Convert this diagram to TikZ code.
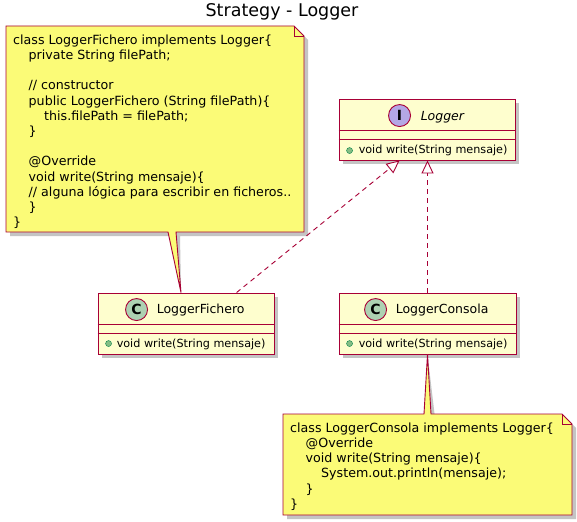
\documentclass[tikz,border=0pt]{standalone}
\usepackage{fontspec}
\setmainfont{DejaVu Sans}
\usetikzlibrary{arrows.meta,shadows,calc}
\definecolor{umlborder}{HTML}{A80036}
\definecolor{classfill}{HTML}{FEFECE}
\definecolor{notefill}{HTML}{FBFB77}
\definecolor{cfill}{HTML}{ADD1B2}
\definecolor{ifill}{HTML}{B4A7E5}
\definecolor{pubfill}{HTML}{84BE84}
\definecolor{pubdraw}{HTML}{038048}
\definecolor{shadowc}{HTML}{C4C4C4}
\pgfdeclarelayer{bg}
\pgfsetlayers{bg,main}
\newcommand\myind{\hspace*{15.5pt}}
\begin{document}
\begin{tikzpicture}[x=1pt,y=-1pt,
  umlline/.style={draw=umlborder, line width=0.9pt},
  classbox/.style={draw=umlborder, fill=classfill, line width=0.9pt,
    minimum width=#1, minimum height=61, inner sep=0pt,
    drop shadow={shadow xshift=4pt, shadow yshift=-4pt, fill=shadowc, opacity=1}},
  circ/.style={circle, draw=umlborder, line width=0.9pt, minimum size=22, inner sep=0pt,
    font=\fontsize{14}{16}\selectfont\bfseries},
  cname/.style={anchor=base west, inner sep=0pt, font=\fontsize{12.5}{15}\selectfont},
  meth/.style={anchor=base west, inner sep=0pt, font=\fontsize{11.2}{13}\selectfont},
  pubdot/.style={circle, fill=pubfill, draw=pubdraw, line width=0.4pt, minimum size=6, inner sep=0pt},
  notebody/.style={fill=notefill, draw=umlborder, line width=0.9pt, line join=miter},
  notetext/.style={anchor=north west, inner sep=0pt, align=left,
    font=\fontsize{12.65}{15.2}\selectfont},
  realize/.style={draw=umlborder, line width=0.9pt, dash pattern=on 5pt off 4pt,
    -{Triangle[length=13pt, width=12pt, fill=white]}},
]
\begin{pgfonlayer}{bg}
\fill[white] (0,0) rectangle (577,521);
\end{pgfonlayer}
\useasboundingbox (0,0) rectangle (577,521);

% title
\node[anchor=base, inner sep=0pt, font=\fontsize{17.5}{20}\selectfont] (title) at (282,16.7) {Strategy - Logger};

% classes
\node[classbox=176] (LG) at (427,129.5) {};
\node[classbox=176] (LF) at (186,323.5) {};
\node[classbox=177] (LC) at (427.5,323.5) {};

\foreach \c in {LG,LF,LC}{
  \draw[umlline] ([yshift=-32pt]\c.north west) -- ([yshift=-32pt]\c.north east);
  \draw[umlline] ([yshift=-40.5pt]\c.north west) -- ([yshift=-40.5pt]\c.north east);
}

\node[circ, fill=ifill] (LGi) at ($(LG.north west)+(61,17)$) {I};
\node[cname] (LGn) at ($(LG.north west)+(82,21.5)$) {\itshape Logger};
\node[pubdot] (LGd) at ($(LG.north west)+(11,52)$) {};
\node[meth] (LGm) at ($(LG.north west)+(20,55)$) {void write(String mensaje)};

\node[circ, fill=cfill] (LFc) at ($(LF.north west)+(39,17)$) {C};
\node[cname] (LFn) at ($(LF.north west)+(59,21)$) {LoggerFichero};
\node[pubdot] (LFd) at ($(LF.north west)+(11,51)$) {};
\node[meth] (LFm) at ($(LF.north west)+(19,54.5)$) {void write(String mensaje)};

\node[circ, fill=cfill] (LCc) at ($(LC.north west)+(37,17)$) {C};
\node[cname] (LCn) at ($(LC.north west)+(57,21)$) {LoggerConsola};
\node[pubdot] (LCd) at ($(LC.north west)+(11,51)$) {};
\node[meth] (LCm) at ($(LC.north west)+(20,54.5)$) {void write(String mensaje)};

% realizations
\draw[realize] ($(LF.north west)+(139,0)$) -- ($(LG.south west)+(61,0)$);
\draw[realize] (LC.north) -- (LC.north |- LG.south);

% note 1
\coordinate (t1) at ($(LF.north)+(-5,0)$);
\begin{pgfonlayer}{bg}
\fill[shadowc, shift={(4,4)}] (6,26) -- (294,26) -- (304,36) -- (304,232) -- (176,232)
  -- (t1) -- (168,232) -- (6,232) -- cycle;
\end{pgfonlayer}
\path[notebody] (6,26) -- (294,26) -- (304,36) -- (304,232) -- (176,232)
  -- (t1) -- (168,232) -- (6,232) -- cycle;
\draw[umlline, line join=miter] (294,26) -- (294,36) -- (304,36);
\node[notetext] (N1) at (13,34.4) {class LoggerFichero implements Logger\{\\
\myind private String filePath;\\
\mbox{}\\
\myind // constructor\\
\myind public LoggerFichero (String filePath)\{\\
\myind\myind this.filePath = filePath;\\
\myind \}\\
\mbox{}\\
\myind @Override\\
\myind void write(String mensaje)\{\\
\myind // alguna lógica para escribir en ficheros..\\
\myind \}\\
\}};

% note 2
\coordinate (t2) at (LC.south);
\begin{pgfonlayer}{bg}
\fill[shadowc, shift={(4,4)}] (283,414) -- (424,414) -- (t2) -- (431,414) -- (562,414)
  -- (572,424) -- (572,515) -- (283,515) -- cycle;
\end{pgfonlayer}
\path[notebody] (283,414) -- (424,414) -- (t2) -- (431,414) -- (562,414)
  -- (572,424) -- (572,515) -- (283,515) -- cycle;
\draw[umlline, line join=miter] (562,414) -- (562,424) -- (572,424);
\node[notetext] (N2) at (290,422.4) {class LoggerConsola implements Logger\{\\
\myind @Override\\
\myind void write(String mensaje)\{\\
\myind\myind System.out.println(mensaje);\\
\myind \}\\
\}};
\end{tikzpicture}
\end{document}
